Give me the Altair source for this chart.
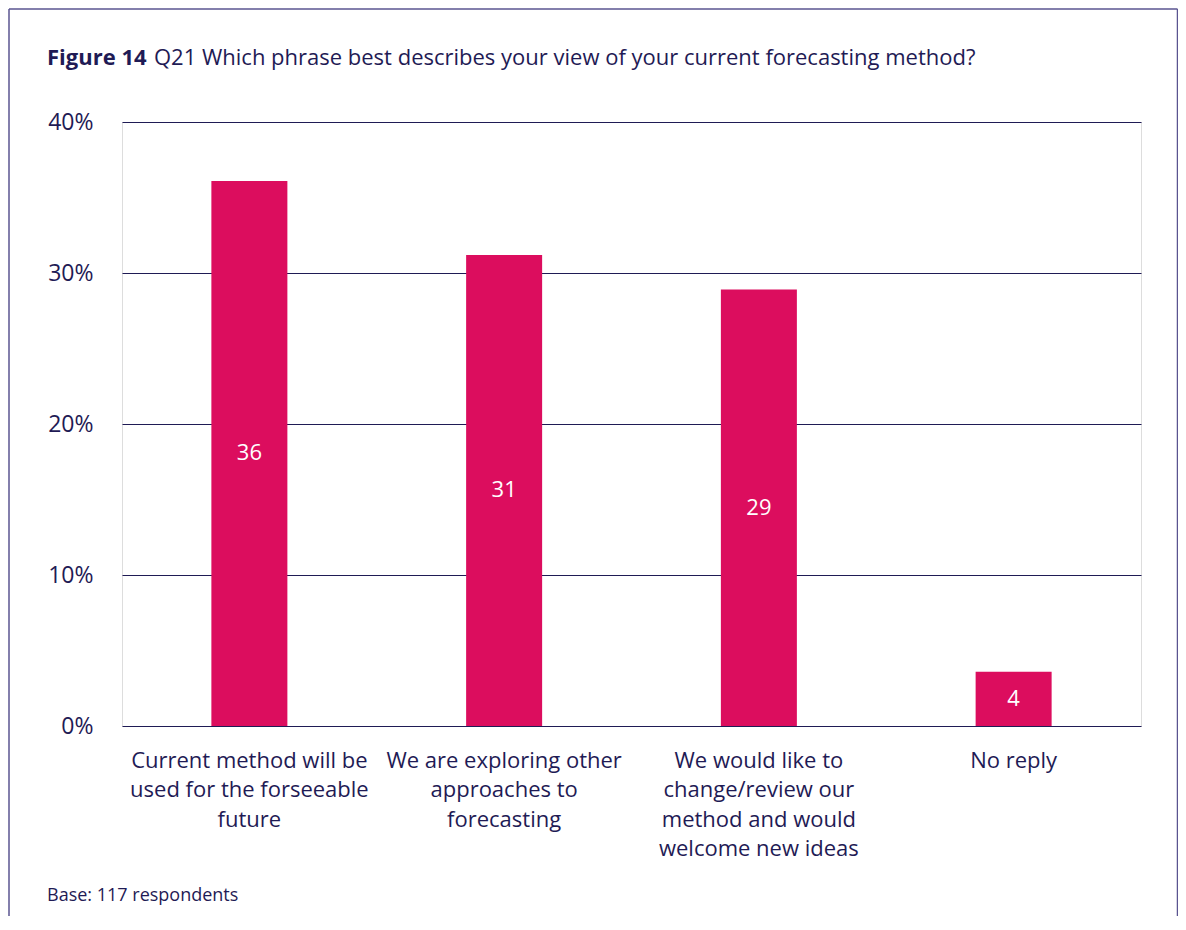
import altair as alt
import pandas as pd

categories = [
    "Current method will be|used for the forseeable|future",
    "We are exploring other|approaches to|forecasting",
    "We would like to|change/review our|method and would|welcome new ideas",
    "No reply",
]
values = [36.1, 31.2, 28.9, 3.6]
bar_labels = ["36", "31", "29", "4"]
y_ticks = [0, 10, 20, 30, 40]

title_bold = "Figure 14"
title_rest = "Q21 Which phrase best describes your view of your current forecasting method?"
footnote = "Base: 117 respondents"

FONT = "Open Sans"
NAVY = "#1f1b55"
FRAME = "#5a5490"
BAR = "#dc0d5e"

df = pd.DataFrame({"cat": categories, "val": values, "lab": bar_labels})
one = pd.DataFrame({"a": [0]})

W, H = 1019, 604

base = alt.Chart(df)

bars = base.mark_bar(color=BAR, size=76).encode(
    x=alt.X("cat:N", sort=categories, title=None,
            axis=alt.Axis(labelExpr="split(datum.label, '|')", labelAngle=0,
                          labelFont=FONT, labelFontSize=22, labelColor=NAVY,
                          labelLineHeight=29.5, labelPadding=24, ticks=False,
                          domain=False, labelLimit=400)),
    y=alt.Y("val:Q", title=None, scale=alt.Scale(domain=[0, 40], nice=False),
            axis=alt.Axis(values=y_ticks, labelExpr="datum.value + '%'",
                          labelFont=FONT, labelFontSize=23, labelColor=NAVY,
                          labelPadding=29, ticks=False, domain=False,
                          grid=True, gridColor=NAVY, gridWidth=1.2, gridOpacity=1)),
)

texts = base.transform_calculate(mid="datum.val / 2").mark_text(
    color="white", font=FONT, fontSize=22, baseline="middle"
).encode(
    x=alt.X("cat:N", sort=categories),
    y=alt.Y("mid:Q"),
    text="lab:N",
)

t1 = alt.Chart(one).mark_text(
    font=FONT, fontSize=22, fontWeight="bold", color=NAVY, align="left", baseline="middle"
).encode(x=alt.value(-75), y=alt.value(-64), text=alt.value(title_bold))

t2 = alt.Chart(one).mark_text(
    font=FONT, fontSize=22, color=NAVY, align="left", baseline="middle"
).encode(x=alt.value(32), y=alt.value(-64), text=alt.value(title_rest))

foot = alt.Chart(one).mark_text(
    font=FONT, fontSize=18, color=NAVY, align="left", baseline="middle"
).encode(x=alt.value(-75), y=alt.value(774), text=alt.value(footnote))

frame_left = alt.Chart(one).mark_rule(color=FRAME, strokeWidth=1.5).encode(
    x=alt.value(-113), y=alt.value(-113), y2=alt.value(800))
frame_top = alt.Chart(one).mark_rule(color=FRAME, strokeWidth=1.5).encode(
    x=alt.value(-113), x2=alt.value(1055.5), y=alt.value(-113))
frame_right = alt.Chart(one).mark_rule(color=FRAME, strokeWidth=1.5).encode(
    x=alt.value(1055.5), y=alt.value(-113), y2=alt.value(800))

chart = alt.layer(bars, texts, t1, t2, foot, frame_left, frame_top, frame_right).properties(
    width=W, height=H,
    autosize=alt.AutoSizeParams(type="none"),
    padding={"left": 114, "top": 114, "right": 37, "bottom": 190},
).configure_view(stroke=NAVY, strokeWidth=1.5).configure(background="white")

chart.save("out.html", embed_options={"renderer": "svg", "actions": False})
